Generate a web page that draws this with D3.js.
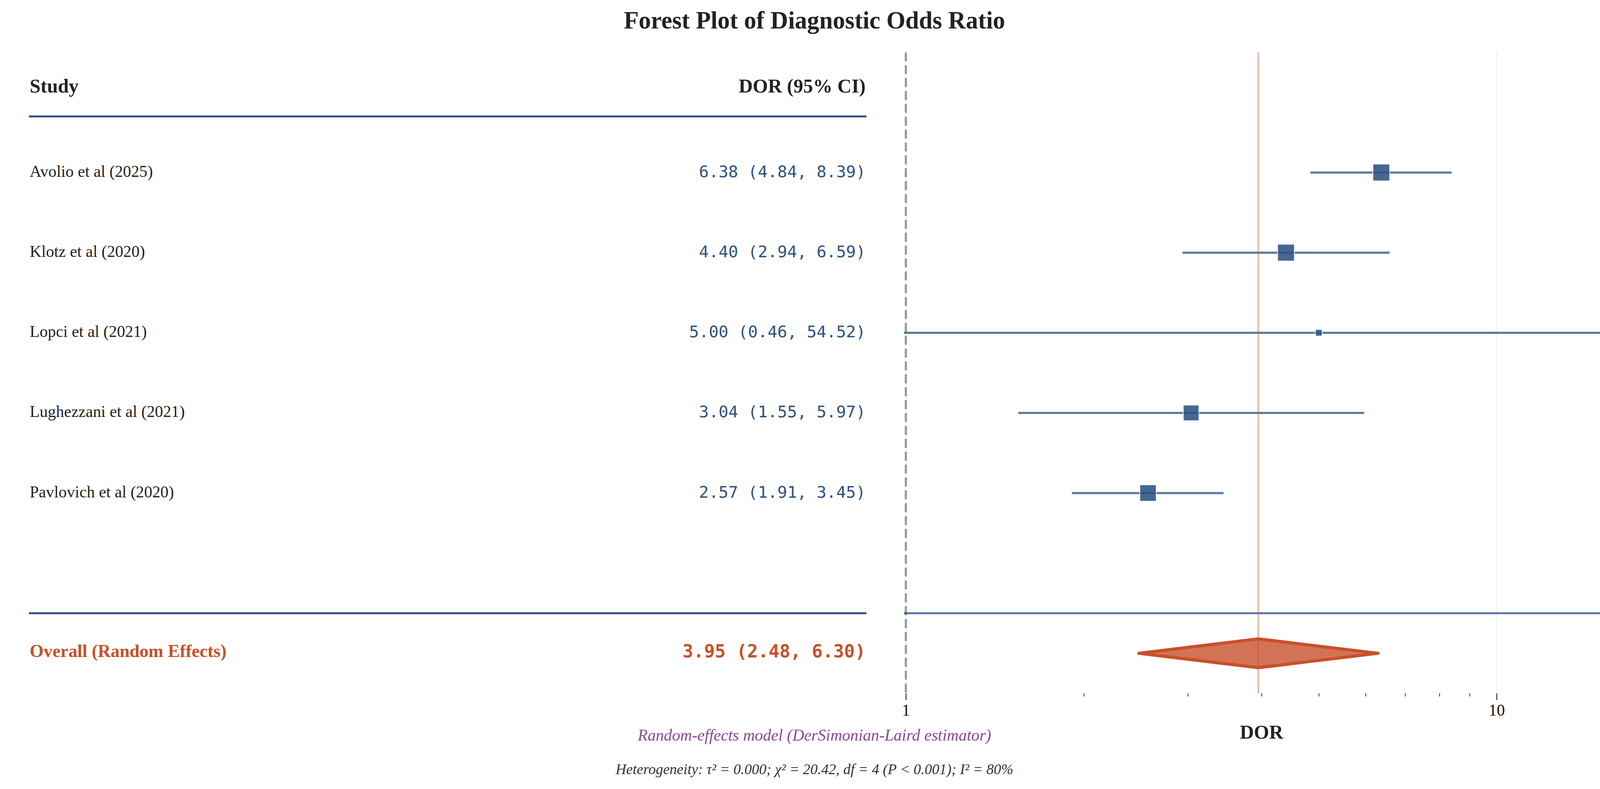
<!DOCTYPE html>
<html>
<head>
<meta charset="utf-8">
<script src="https://cdn.jsdelivr.net/npm/d3@7/dist/d3.min.js"></script>
<style>
  body { margin: 0; background: #fff; }
  .serif { font-family: "Liberation Serif", "Times New Roman", serif; }
  .mono { font-family: "DejaVu Sans Mono", monospace; }
</style>
</head>
<body>
<div id="chart-area"></div>
<script>

// SVG Size
var width = 4170,
    height = 2021;

// Data
var studies = ["Avolio et al (2025)", "Klotz et al (2020)", "Lopci et al (2021)",
               "Lughezzani et al (2021)", "Pavlovich et al (2020)"];
var dor = [6.38, 4.40, 5.00, 3.04, 2.57];
var ciLower = [4.84, 2.94, 0.46, 1.55, 1.91];
var ciUpper = [8.39, 6.59, 54.52, 5.97, 3.45];
var weights = [25.2, 25.2, 3.9, 21.8, 24.0];   // % weight

var overallLabel = "Overall (Random Effects)";
var overallValues = [3.95, 2.48, 6.30];          // estimate, lower, upper

var majorTicks = [1, 10];
var minorTicks = [2, 3, 4, 5, 6, 7, 8, 9];

var titleText = "Forest Plot of Diagnostic Odds Ratio";
var headerStudy = "Study";
var headerValue = "DOR (95% CI)";
var xLabel = "DOR";
var modelNote = "Random-effects model (DerSimonian-Laird estimator)";
var hetNote = "Heterogeneity: τ² = 0.000; χ² = 20.42, df = 4 (P < 0.001); I² = 80%";

// Colours
var blue = "#2c5282",
    orange = "#c8502a",
    ink = "#222222";

var data = studies.map(function(s, i) {
    return { study: s, dor: dor[i], lo: ciLower[i], hi: ciUpper[i], w: weights[i], row: i };
});
var overallRow = studies.length + 1;

var fmt = d3.format(".2f");
function ciText(e, l, u) { return fmt(e) + " (" + fmt(l) + ", " + fmt(u) + ")"; }

var svg = d3.select("#chart-area")
    .append("svg")
    .attr("width", width)
    .attr("height", height);

// Scales
var y = d3.scaleLinear()
    .domain([-1.5, overallRow + 0.5])
    .range([134, 1776]);

var x = d3.scaleLog()
    .domain([1, 16])
    .range([2319, 4140]);

var sizeScale = d3.scaleSqrt()
    .domain([0, d3.max(weights)])
    .range([0, 43]);

var leftX0 = 74, leftX1 = 2218;

// Title
svg.append("text")
    .attr("class", "serif")
    .attr("x", width / 2)
    .attr("y", 73)
    .attr("text-anchor", "middle")
    .attr("font-size", 62.5)
    .attr("font-weight", "bold")
    .attr("fill", ink)
    .text(titleText);

// ---- Left panel: study table ----
var table = svg.append("g");

table.append("text")
    .attr("class", "serif")
    .attr("x", leftX0 + 2).attr("y", y(-1))
    .attr("font-size", 50).attr("font-weight", "bold").attr("fill", ink)
    .text(headerStudy);

table.append("text")
    .attr("class", "serif")
    .attr("x", leftX1 - 2).attr("y", y(-1))
    .attr("text-anchor", "end")
    .attr("font-size", 50).attr("font-weight", "bold").attr("fill", ink)
    .text(headerValue);

table.selectAll("line.sep")
    .data([-0.7, studies.length + 0.5])
    .enter()
    .append("line")
    .attr("class", "sep")
    .attr("x1", leftX0).attr("x2", leftX1)
    .attr("y1", d => y(d)).attr("y2", d => y(d))
    .attr("stroke", blue)
    .attr("stroke-width", 5);

table.selectAll("text.study")
    .data(data)
    .enter()
    .append("text")
    .attr("class", "study serif")
    .attr("x", leftX0 + 2)
    .attr("y", d => y(d.row))
    .attr("dy", "0.26em")
    .attr("font-size", 41.7)
    .attr("fill", ink)
    .text(d => d.study);

table.selectAll("text.value")
    .data(data)
    .enter()
    .append("text")
    .attr("class", "value mono")
    .attr("x", leftX1 - 2)
    .attr("y", d => y(d.row))
    .attr("dy", "0.28em")
    .attr("text-anchor", "end")
    .attr("font-size", 41.7)
    .attr("fill", blue)
    .attr("xml:space", "preserve")
    .text(d => ciText(d.dor, d.lo, d.hi));

table.append("text")
    .attr("class", "serif")
    .attr("x", leftX0 + 2)
    .attr("y", y(overallRow))
    .attr("dy", "0.22em")
    .attr("font-size", 45.8).attr("font-weight", "bold").attr("fill", orange)
    .text(overallLabel);

table.append("text")
    .attr("class", "mono")
    .attr("x", leftX1 - 2)
    .attr("y", y(overallRow))
    .attr("dy", "0.24em")
    .attr("text-anchor", "end")
    .attr("font-size", 45.8).attr("font-weight", "bold").attr("fill", orange)
    .text(ciText(overallValues[0], overallValues[1], overallValues[2]));

// ---- Right panel: forest plot ----
var plot = svg.append("g");

svg.append("defs").append("clipPath")
    .attr("id", "plot-clip")
    .append("rect")
    .attr("x", x(1) - 5).attr("y", y(-1.5))
    .attr("width", x(16) - x(1) + 5).attr("height", y(overallRow + 0.5) - y(-1.5));

// Grid at major ticks
plot.selectAll("line.grid")
    .data(majorTicks)
    .enter()
    .append("line")
    .attr("class", "grid")
    .attr("x1", d => x(d)).attr("x2", d => x(d))
    .attr("y1", y(-1.5)).attr("y2", y(overallRow + 0.5))
    .attr("stroke", "#efefef")
    .attr("stroke-width", 2.5);

// Null line
plot.append("line")
    .attr("x1", x(1)).attr("x2", x(1))
    .attr("y1", y(-1.5)).attr("y2", y(overallRow + 0.5))
    .attr("stroke", "#999999")
    .attr("stroke-width", 5.5)
    .attr("stroke-dasharray", "23,10");

var inner = plot.append("g").attr("clip-path", "url(#plot-clip)");

// Separator line
inner.append("line")
    .attr("x1", x(1) - 5).attr("x2", x(16))
    .attr("y1", y(studies.length + 0.5)).attr("y2", y(studies.length + 0.5))
    .attr("stroke", blue).attr("stroke-opacity", 0.78)
    .attr("stroke-width", 5);

// Confidence intervals
inner.selectAll("line.ci")
    .data(data)
    .enter()
    .append("line")
    .attr("class", "ci")
    .attr("x1", d => Math.max(x(d.lo), x(1) - 5))
    .attr("x2", d => x(d.hi))
    .attr("y1", d => y(d.row)).attr("y2", d => y(d.row))
    .attr("stroke", blue).attr("stroke-opacity", 0.77)
    .attr("stroke-width", 5.5);

// Study markers
inner.selectAll("rect.marker")
    .data(data)
    .enter()
    .append("rect")
    .attr("class", "marker")
    .attr("x", d => x(d.dor) - sizeScale(d.w) / 2)
    .attr("y", d => y(d.row) - sizeScale(d.w) / 2)
    .attr("width", d => sizeScale(d.w))
    .attr("height", d => sizeScale(d.w))
    .attr("fill", blue).attr("fill-opacity", 0.88)
    .attr("stroke", "#ffffff").attr("stroke-opacity", 0.85)
    .attr("stroke-width", 2);

// Overall diamond
var yo = y(overallRow), dh = y(overallRow + 0.18) - y(overallRow);
inner.append("path")
    .attr("d", d3.line()([
        [x(overallValues[1]), yo],
        [x(overallValues[0]), yo - dh],
        [x(overallValues[2]), yo],
        [x(overallValues[0]), yo + dh]
    ]) + "Z")
    .attr("fill", orange).attr("fill-opacity", 0.8)
    .attr("stroke", orange)
    .attr("stroke-width", 8)
    .attr("stroke-linejoin", "round");

// Overall estimate line
inner.append("line")
    .attr("x1", x(overallValues[0])).attr("x2", x(overallValues[0]))
    .attr("y1", y(-1.5)).attr("y2", y(overallRow + 0.5))
    .attr("stroke", orange).attr("stroke-opacity", 0.42)
    .attr("stroke-width", 4);

// Axes
var xAxis = d3.axisBottom(x)
    .tickValues(majorTicks)
    .tickFormat(d3.format("d"))
    .tickSize(17)
    .tickPadding(10);

var xAxisMinor = d3.axisBottom(x)
    .tickValues(minorTicks)
    .tickFormat("")
    .tickSize(8);

var axisY = y(overallRow + 0.5);

var gMinor = svg.append("g")
    .attr("transform", "translate(0," + axisY + ")")
    .call(xAxisMinor);
gMinor.select(".domain").remove();
gMinor.selectAll(".tick line").attr("stroke", ink).attr("stroke-width", 1.8);

var gMajor = svg.append("g")
    .attr("transform", "translate(0," + axisY + ")")
    .call(xAxis);
gMajor.select(".domain").remove();
gMajor.selectAll(".tick line").attr("stroke", ink).attr("stroke-width", 2.2);
gMajor.selectAll(".tick text")
    .attr("class", "serif")
    .attr("font-family", "Liberation Serif, serif")
    .attr("font-size", 41.7)
    .attr("fill", "#111");

svg.append("text")
    .attr("class", "serif")
    .attr("x", (x(1) + x(16)) / 2)
    .attr("y", 1892)
    .attr("text-anchor", "middle")
    .attr("font-size", 50).attr("font-weight", "bold").attr("fill", ink)
    .text(xLabel);

// Notes
svg.append("text")
    .attr("class", "serif")
    .attr("x", width / 2).attr("y", 1897)
    .attr("text-anchor", "middle")
    .attr("font-size", 41.7).attr("font-style", "italic")
    .attr("fill", "#8a4a94")
    .text(modelNote);

svg.append("text")
    .attr("class", "serif")
    .attr("x", width / 2).attr("y", 1983)
    .attr("text-anchor", "middle")
    .attr("font-size", 37.5).attr("font-style", "italic")
    .attr("fill", "#333333")
    .text(hetNote);

</script>
</body>
</html>
